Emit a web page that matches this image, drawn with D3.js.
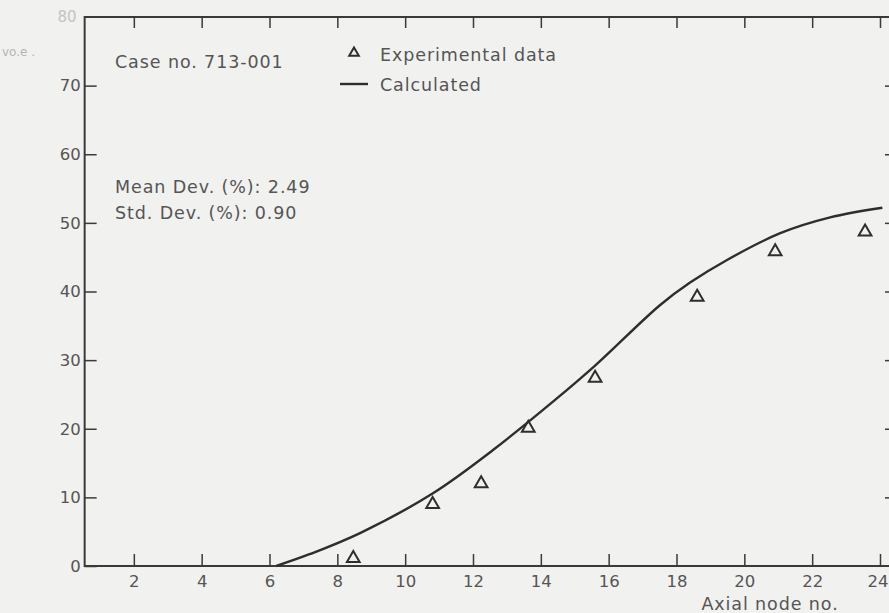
<!DOCTYPE html>
<html>
<head>
<meta charset="utf-8">
<script src="https://cdn.jsdelivr.net/npm/d3@7"></script>
<style>
  html, body { margin: 0; padding: 0; background: #f1f1ef; }
  svg { display: block; }
  text { font-family: "DejaVu Sans", sans-serif; fill: #555; }
</style>
</head>
<body>
<div id="chart"></div>
<script>
// Experimental data (triangles)
const expNode = [8.47, 10.81, 12.24, 13.63, 15.6, 18.61, 20.91, 23.56];
const expValue = [1.1, 9.0, 12.0, 20.1, 27.4, 39.2, 45.8, 48.7];

// Calculated curve
const calcNode = [6.2, 7.2, 8.67, 10.82, 12.59, 14.42, 15.6, 17.51, 18.4, 19.49, 21.06, 22.53, 24.07];
const calcValue = [0, 1.75, 4.8, 10.6, 16.9, 24.2, 29.2, 38.0, 41.3, 44.6, 48.5, 50.8, 52.2];

// Tick labels
const xTicks = [2, 4, 6, 8, 10, 12, 14, 16, 18, 20, 22, 24];
const yTicks = [0, 10, 20, 30, 40, 50, 60, 70];

function drawChart() {
    d3.select("#chart").select("svg").remove();

    const width = 889;
    const height = 613;

    const svg = d3.select("#chart")
        .append("svg")
        .attr("width", width)
        .attr("height", height);

    // Scales (x axis frame runs a bit past 0 and 24)
    const x = d3.scaleLinear().domain([0, 24]).range([66, 880]);
    const y = d3.scaleLinear().domain([0, 80]).range([566, 17]);
    const xLo = 0.55, xHi = 24.5;

    const ink = "#3a3a3a";
    const labelStyle = sel => sel
        .style("font-size", "17.5px")
        .style("letter-spacing", "0.9px")
        .style("fill", "#555");

    // Frame
    svg.append("rect")
        .attr("x", x(xLo))
        .attr("y", y(80))
        .attr("width", x(xHi) - x(xLo))
        .attr("height", y(0) - y(80))
        .attr("fill", "none")
        .attr("stroke", ink)
        .attr("stroke-width", 2);

    // Bottom axis: inward ticks
    const xAxis = svg.append("g")
        .attr("transform", `translate(0,${y(0)})`)
        .call(d3.axisBottom(x).tickValues(xTicks).tickSize(-12).tickPadding(19));
    xAxis.select(".domain").remove();
    xAxis.selectAll("line").attr("stroke", ink).attr("stroke-width", 1.5);
    xAxis.selectAll("text")
        .attr("dy", "0.1em")
        .style("font-size", "16.5px")
        .style("fill", "#555");
    // last label sits against the right edge, as in the scan
    xAxis.selectAll(".tick")
        .filter(d => d === 24)
        .select("text")
        .attr("text-anchor", "end")
        .attr("x", 888 - x(24));

    // Top axis ticks, no labels
    const xTop = svg.append("g")
        .attr("transform", `translate(0,${y(80)})`)
        .call(d3.axisTop(x).tickValues(xTicks).tickSize(-11).tickFormat(""));
    xTop.select(".domain").remove();
    xTop.selectAll("line").attr("stroke", ink).attr("stroke-width", 1.5);

    // Left axis: inward ticks
    const yAxis = svg.append("g")
        .attr("transform", `translate(${x(xLo)},0)`)
        .call(d3.axisLeft(y).tickValues(yTicks).tickSize(-12).tickPadding(4));
    yAxis.select(".domain").remove();
    yAxis.selectAll("line").attr("stroke", ink).attr("stroke-width", 1.5);
    yAxis.selectAll("text")
        .style("font-size", "16.5px")
        .style("fill", "#555");

    // Faded 80 at the top
    svg.append("text")
        .attr("x", x(xLo) - 8)
        .attr("y", y(80) + 5)
        .attr("text-anchor", "end")
        .style("font-size", "15px")
        .style("fill", "#c4c4c4")
        .text("80");

    // Faded fragment of the axis title
    svg.append("text")
        .attr("x", 2)
        .attr("y", 56)
        .style("font-size", "12px")
        .style("fill", "#b5b5b5")
        .text("vo.e  .");

    // Right axis ticks
    const yRight = svg.append("g")
        .attr("transform", `translate(${x(xHi)},0)`)
        .call(d3.axisRight(y).tickValues(yTicks.slice(1)).tickSize(-12).tickFormat(""));
    yRight.select(".domain").remove();
    yRight.selectAll("line").attr("stroke", ink).attr("stroke-width", 1.5);

    // Calculated curve
    const calc = calcNode.map((d, i) => ({ x: d, y: calcValue[i] }));
    const line = d3.line()
        .x(d => x(d.x))
        .y(d => y(d.y))
        .curve(d3.curveCatmullRom.alpha(0.5));
    svg.append("path")
        .datum(calc)
        .attr("d", line)
        .attr("fill", "none")
        .attr("stroke", "#2e2e2e")
        .attr("stroke-width", 2.4);

    // Experimental triangles
    const tri = d3.symbol().type(d3.symbolTriangle).size(70);
    svg.selectAll(".exp")
        .data(expNode.map((d, i) => ({ x: d, y: expValue[i] })))
        .enter()
        .append("path")
        .attr("class", "exp")
        .attr("d", tri)
        .attr("transform", d => `translate(${x(d.x)},${y(d.y)})`)
        .attr("fill", "none")
        .attr("stroke", "#2e2e2e")
        .attr("stroke-width", 2);

    // Axis title
    svg.append("text")
        .attr("x", 770)
        .attr("y", 610)
        .attr("text-anchor", "middle")
        .call(labelStyle)
        .text("Axial node no.");

    // Annotations
    svg.append("text")
        .attr("x", 115)
        .attr("y", 68)
        .call(labelStyle)
        .text("Case no. 713-001");

    svg.append("text")
        .attr("x", 115)
        .attr("y", 193)
        .call(labelStyle)
        .text("Mean Dev. (%): 2.49");

    svg.append("text")
        .attr("x", 115)
        .attr("y", 219)
        .call(labelStyle)
        .text("Std. Dev. (%): 0.90");

    // Legend
    svg.append("path")
        .attr("d", d3.symbol().type(d3.symbolTriangle).size(40))
        .attr("transform", "translate(354,53)")
        .attr("fill", "none")
        .attr("stroke", "#2e2e2e")
        .attr("stroke-width", 2);
    svg.append("text")
        .attr("x", 380)
        .attr("y", 61)
        .call(labelStyle)
        .text("Experimental data");

    svg.append("line")
        .attr("x1", 340).attr("x2", 368)
        .attr("y1", 84).attr("y2", 84)
        .attr("stroke", "#2e2e2e")
        .attr("stroke-width", 2.4);
    svg.append("text")
        .attr("x", 380)
        .attr("y", 91)
        .call(labelStyle)
        .text("Calculated");
}

drawChart();
</script>
</body>
</html>
